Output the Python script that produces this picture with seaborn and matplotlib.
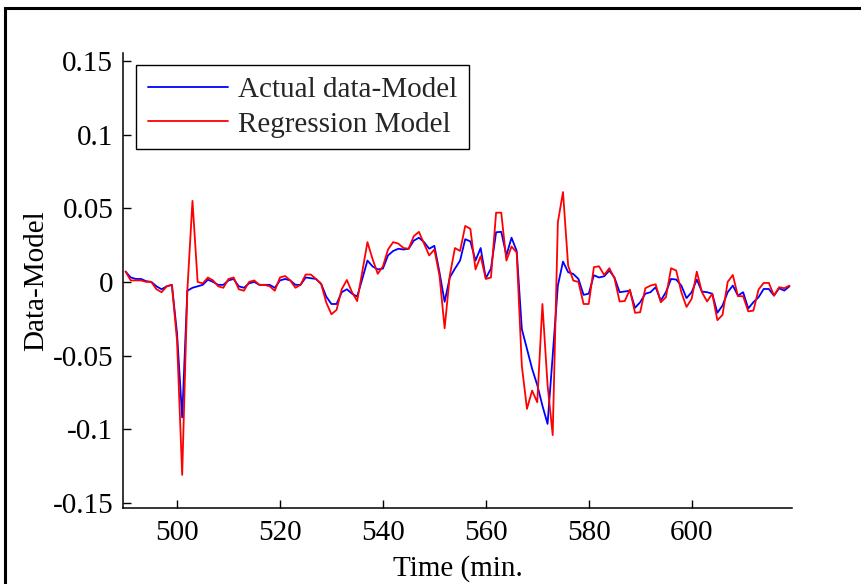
import numpy as np
import pandas as pd
import matplotlib
matplotlib.use("Agg")
import matplotlib.pyplot as plt
import seaborn as sns
from matplotlib.patches import Rectangle

# ---- data ----
t_start, t_end = 490, 619
time_min = list(range(t_start, t_end + 1))

actual_data_model = [
    0.007, 0.003, 0.002, 0.002, 0.0005, 0.0, -0.003, -0.005, -0.003, -0.002,   # 490-499
    -0.035, -0.092, -0.006, -0.004, -0.003, -0.002, 0.0015, 0.0, -0.002, -0.002,  # 500-509
    0.001, 0.002, -0.003, -0.004, -0.001, 0.0, -0.002, -0.002, -0.002, -0.004,  # 510-519
    0.001, 0.002, 0.001, -0.002, -0.002, 0.003, 0.0025, 0.002, -0.0013, -0.010,  # 520-529
    -0.015, -0.015, -0.007, -0.005, -0.008, -0.010, 0.002, 0.0145, 0.0105, 0.0085,  # 530-539
    0.009, 0.018, 0.021, 0.0225, 0.022, 0.0225, 0.028, 0.030, 0.027, 0.0225,  # 540-549
    0.0245, 0.0065, -0.0135, 0.003, 0.009, 0.0145, 0.029, 0.0275, 0.0145, 0.023,  # 550-559
    0.0025, 0.009, 0.0337, 0.034, 0.018, 0.030, 0.021, -0.032, -0.0455, -0.059,  # 560-569
    -0.070, -0.084, -0.0964, -0.05, -0.0025, 0.0138, 0.0066, 0.0054, 0.002, -0.0088,  # 570-579
    -0.008, 0.0045, 0.003, 0.0038, 0.0077, 0.003, -0.007, -0.0065, -0.006, -0.0176,  # 580-589
    -0.0138, -0.008, -0.007, -0.0036, -0.0127, -0.007, 0.002, 0.0016, -0.0025, -0.011,  # 590-599
    -0.007, 0.0016, -0.0066, -0.007, -0.008, -0.021, -0.016, -0.007, -0.0025, -0.0093,  # 600-609
    -0.007, -0.018, -0.0138, -0.0104, -0.0048, -0.0048, -0.0093, -0.0043, -0.0059, -0.003,  # 610-619
]

regression_model = [
    0.007, 0.001, 0.001, 0.001, 0.0, 0.0, -0.005, -0.007, -0.003, -0.002,  # 490-499
    -0.040, -0.131, -0.006, 0.055, 0.0, -0.001, 0.003, 0.001, -0.003, -0.004,  # 500-509
    0.002, 0.003, -0.005, -0.006, 0.0, 0.001, -0.002, -0.002, -0.003, -0.006,  # 510-519
    0.003, 0.004, 0.001, -0.004, -0.002, 0.005, 0.005, 0.002, -0.0013, -0.014,  # 520-529
    -0.022, -0.019, -0.005, 0.0013, -0.007, -0.013, 0.007, 0.027, 0.0155, 0.0055,  # 530-539
    0.0105, 0.022, 0.027, 0.026, 0.023, 0.0225, 0.031, 0.034, 0.026, 0.018,  # 540-549
    0.022, 0.0043, -0.0315, 0.0043, 0.023, 0.021, 0.038, 0.036, 0.0085, 0.0175,  # 550-559
    0.002, 0.003, 0.047, 0.047, 0.0145, 0.024, 0.020, -0.057, -0.0862, -0.0738,  # 560-569
    -0.0817, -0.015, -0.070, -0.104, 0.0405, 0.061, 0.011, 0.0009, 0.0, -0.015,  # 570-579
    -0.015, 0.010, 0.0106, 0.0047, 0.0093, 0.0025, -0.0133, -0.013, -0.0052, -0.021,  # 580-589
    -0.0206, -0.0043, -0.0025, -0.0016, -0.0138, -0.0104, 0.0093, 0.0077, -0.007, -0.017,  # 590-599
    -0.0115, 0.007, -0.007, -0.0133, -0.008, -0.026, -0.0224, 0.0, 0.0047, -0.0097,  # 600-609
    -0.0097, -0.020, -0.0195, -0.0052, -0.0007, -0.0007, -0.0093, -0.0036, -0.0043, -0.0025,  # 610-619
]

series_names = ["Actual data-Model", "Regression Model"]
series_colors = ["#0000ff", "#ff0000"]

x_ticks = [500, 520, 540, 560, 580, 600]
x_tick_labels = ["500", "520", "540", "560", "580", "600"]
y_ticks = [-0.15, -0.1, -0.05, 0, 0.05, 0.1, 0.15]
y_tick_labels = ["-0.15", "-0.1", "-0.05", "0", "0.05", "0.1", "0.15"]

# ---- build long-form table ----
df = pd.concat([
    pd.DataFrame({"Time": time_min, "Value": actual_data_model, "Series": series_names[0]}),
    pd.DataFrame({"Time": time_min, "Value": regression_model, "Series": series_names[1]}),
], ignore_index=True)

sns.set_theme(style="white")
plt.rcParams["font.family"] = ["Liberation Serif", "DejaVu Serif"]

W, H = 862, 584
fig = plt.figure(figsize=(W / 100, H / 100), dpi=100)
fig.patch.set_facecolor("white")

ax_l, ax_r, ax_t, ax_b = 123, 792, 53, 508
ax = fig.add_axes([ax_l / W, 1 - ax_b / H, (ax_r - ax_l) / W, (ax_b - ax_t) / H])

sns.lineplot(data=df, x="Time", y="Value", hue="Series",
             palette=dict(zip(series_names, series_colors)),
             linewidth=1.3, ax=ax, legend=False, estimator=None)

ax.set_xlim(489.5, 619.5)
ax.set_ylim(-0.1535, 0.1554)

ax.set_xticks(x_ticks)
ax.set_xticklabels(x_tick_labels)
ax.set_yticks(y_ticks)
ax.set_yticklabels(y_tick_labels)

for s in ["top", "right"]:
    ax.spines[s].set_visible(False)
for s in ["left", "bottom"]:
    ax.spines[s].set_visible(True)
    ax.spines[s].set_color("black")
    ax.spines[s].set_linewidth(1.1)

ax.tick_params(axis="both", which="major", direction="in", length=6, width=1.0,
               color="black", labelsize=21, labelcolor="black",
               left=True, bottom=True, right=False, top=False)
ax.tick_params(axis="x", pad=9)
ax.tick_params(axis="y", pad=7)

ax.set_xlabel("Time (min.", fontsize=21, color="black")
ax.set_ylabel("Data-Model", fontsize=21, color="black")
ax.xaxis.set_label_coords(0.5, -0.104)
ax.yaxis.set_label_coords(-0.11, 0.5)

handles = [plt.Line2D([], [], color=c, linewidth=1.3) for c in series_colors]
leg = ax.legend(handles, series_names, loc="upper left",
                bbox_to_anchor=(136 / W, 1 - 65 / H), bbox_transform=fig.transFigure,
                borderaxespad=0, fontsize=21, frameon=True, fancybox=False,
                edgecolor="black", framealpha=1, handlelength=2.75,
                handletextpad=0.34, labelspacing=0.28, borderpad=0.4)
leg.get_frame().set_linewidth(1.0)

# outer figure border
fig.patches.append(Rectangle((5 / W, -0.5), 2.0, 0.5 + 1 - 8 / H,
                             transform=fig.transFigure, fill=False,
                             edgecolor="black", linewidth=2.2))

fig.savefig("out.png", dpi=100)
